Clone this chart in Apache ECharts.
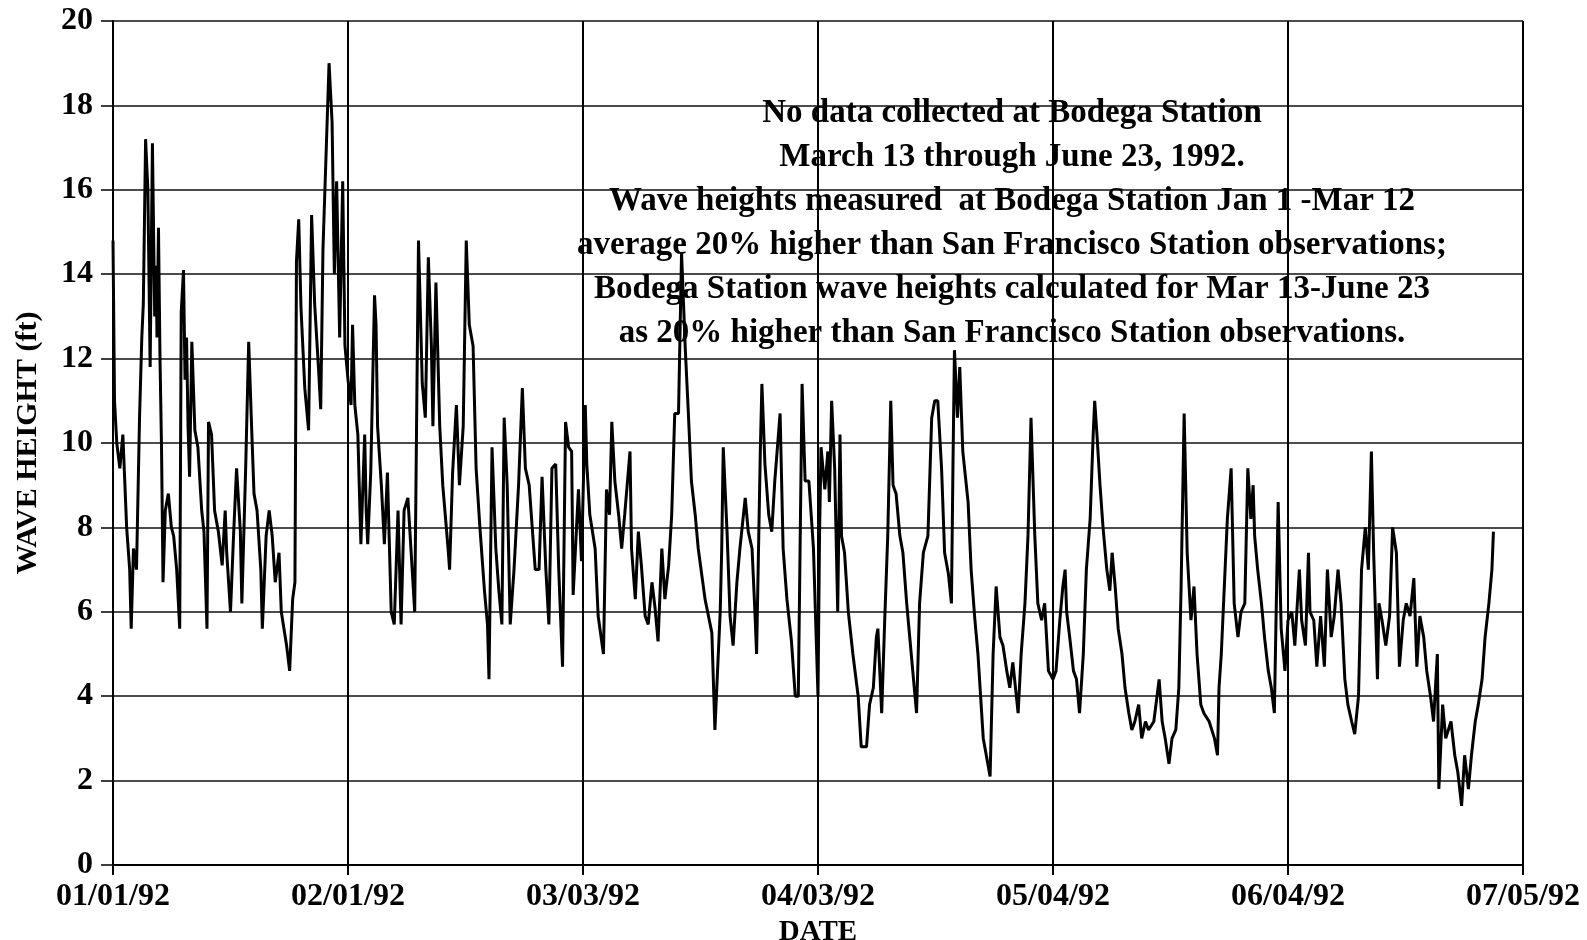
<!DOCTYPE html>
<html>
<head>
<meta charset="utf-8">
<script src="https://cdn.jsdelivr.net/npm/echarts@6/dist/echarts.min.js"></script>
<style>
html,body{margin:0;padding:0;background:#fff;}
#chart{width:1587px;height:940px;}
</style>
</head>
<body>
<div id="chart"></div>
<script>
// Days since 01/01/92 and wave heights (ft)
const days = [
0,0.2,0.5,0.9,1.3,1.8,2.2,2.4,2.7,3.1,3.5,3.8,4.0,4.3,4.6,4.9,5.2,5.5,5.7,5.8,6.0,6.2,6.4,6.6,6.9,7.3,7.7,8.0,8.4,8.8,
9.0,9.3,9.5,9.7,9.9,10.1,10.4,10.8,11.2,11.7,12.0,12.4,12.6,13.0,13.4,13.9,14.4,14.8,15.0,15.5,15.9,16.3,16.8,17.0,17.5,17.9,18.3,18.6,19.0,19.5,
19.7,20.2,20.6,21.0,21.4,21.9,22.2,22.9,23.3,23.7,24.0,24.2,24.5,24.8,25.3,25.8,26.2,26.6,27.1,27.4,27.7,28.5,28.9,29.2,29.5,29.9,30.3,30.6,31.0,31.4,
31.6,31.9,32.3,32.7,33.2,33.4,33.6,34.0,34.5,34.7,34.9,35.4,35.8,36.2,36.7,37.1,37.6,38.0,38.4,38.9,39.3,39.8,40.1,40.3,40.8,41.2,41.6,42.0,42.2,42.6,
43.1,43.5,44.2,44.4,44.8,45.3,45.7,46.2,46.6,47.0,47.5,47.9,48.4,49.0,49.4,49.6,50.0,50.5,50.9,51.3,51.6,52.0,52.4,52.9,53.5,54.0,54.4,54.9,55.3,55.7,
56.2,56.6,57.1,57.5,57.9,58.4,58.8,59.3,59.7,60.1,60.5,60.7,61.4,61.8,62.3,62.5,62.9,63.6,64.0,64.7,65.1,65.5,65.8,66.2,66.7,67.1,67.5,68.2,68.4,68.9,
69.3,69.7,70.2,70.6,71.1,71.5,71.9,72.4,72.8,73.3,73.7,74.1,74.6,75.0,75.5,75.9,76.3,76.8,77.2,78.1,79.0,79.4,80.1,80.3,80.5,81.0,81.4,81.8,82.3,82.7,
83.4,83.8,84.3,84.7,84.9,85.4,85.6,86.0,86.5,86.9,87.3,88.0,88.4,88.9,89.5,90.0,90.4,90.9,91.3,91.8,92.4,93.0,93.2,93.4,93.9,94.3,94.5,94.8,95.2,95.6,
95.9,96.1,96.5,97.0,97.6,98.3,98.7,99.4,99.8,100.3,100.7,100.9,101.4,101.8,102.2,102.6,102.9,103.3,103.8,104.2,104.7,105.1,105.5,106.0,106.4,106.9,107.5,108.0,108.4,108.8,
109.3,109.7,110.2,110.6,110.8,111.0,111.4,111.7,112.1,112.8,113.2,113.7,114.1,114.8,115.2,115.7,116.1,116.5,117.0,117.4,117.9,118.3,118.7,119.4,119.8,120.3,120.7,121.1,121.6,122.0,
122.5,122.9,123.4,124.0,124.4,124.9,125.3,125.6,125.8,126.2,126.7,127.1,127.5,128.0,128.4,128.9,129.3,129.5,129.8,130.2,130.6,131.1,131.5,131.8,132.2,132.6,133.1,133.5,134.0,134.4,
134.8,135.3,135.7,136.2,136.6,137.3,138.0,138.4,138.8,139.3,139.7,140.2,140.6,140.9,141.3,141.7,142.2,142.6,143.0,143.5,143.9,144.6,145.3,145.7,145.9,146.2,146.6,147.0,147.5,147.9,
148.4,148.8,149.3,149.7,150.1,150.4,150.6,151.0,151.5,151.9,152.4,152.8,153.2,153.7,154.1,154.6,155.0,155.5,155.9,156.5,156.8,157.3,157.7,157.9,158.4,158.8,159.3,159.8,160.2,160.7,
161.1,161.6,162.0,162.5,162.9,163.4,163.8,164.3,164.7,165.2,165.6,166.0,166.3,166.8,167.0,167.4,167.9,168.4,168.8,169.3,169.7,170.2,170.6,171.1,171.6,172.0,172.4,172.9,173.3,173.8,
174.2,174.7,174.9,175.4,175.8,176.5,177.0,177.4,177.9,178.3,178.8,179.2,179.7,180.1,180.6,181.0,181.5,181.9,182.1
];
const heights = [
14.8,11,10,9.4,10.2,8,7,5.6,7.5,7,10.6,12.5,13.3,17.2,16,11.8,17.1,13,14.2,12.5,15.1,12,9.9,6.7,8.4,8.8,8.0,7.8,7,5.6,
13.1,14.1,11.5,12.5,10.4,9.2,12.4,10.3,9.9,8.4,7.9,5.6,10.5,10.2,8.4,7.9,7.1,8.4,7.4,6,7.8,9.4,7.9,6.2,9.4,12.4,10.3,8.8,8.4,7,
5.6,7.8,8.4,7.8,6.7,7.4,6,5.2,4.6,6.3,6.7,14.3,15.3,13.2,11.3,10.3,15.4,13.3,11.8,10.8,14.6,19,17.6,14,16.2,12.5,16.2,12.3,11.5,10.9,
12.8,10.9,10.2,7.6,10.2,8.4,7.6,9.3,13.5,12.8,10.4,9.0,7.6,9.3,6,5.7,8.4,5.7,8.4,8.7,7.5,6,11.4,14.8,11.4,10.6,14.4,12.3,10.4,13.8,
10.4,9.0,7.5,7,9.3,10.9,9,10.4,14.8,12.8,12.3,9.4,8,6.5,5.7,4.4,9.9,7.5,6.5,5.7,10.6,9,5.7,7,9,11.3,9.4,9,8,7,
7,9.2,7,5.7,9.4,9.5,7,4.7,10.5,9.9,9.8,6.4,8.9,7.2,10.9,9.5,8.3,7.5,5.9,5,8.9,8.3,10.5,9.1,8.3,7.5,8.3,9.8,7.5,6.3,
7.9,7.1,5.9,5.7,6.7,6.1,5.3,7.5,6.3,7.1,8.3,10.7,10.7,14.5,12.2,10.7,9.1,8.3,7.5,6.3,5.5,3.2,6,7.5,9.9,7.9,5.9,5.2,6.7,7.5,
8.7,7.9,7.5,5.9,5,9.9,11.4,9.5,8.3,7.9,9.1,10.7,7.5,6.3,5.3,4.0,4.0,11.4,9.1,9.1,7.5,4.0,7.8,9.9,8.9,9.8,8.6,11,9.4,6,
10.2,7.8,7.4,6,5,4,2.8,2.8,3.8,4.2,5.4,5.6,3.6,5.8,7.8,11,9,8.8,7.8,7.4,6.2,5.4,4.6,3.6,6.2,7.4,7.8,10.6,11,11,
9.4,7.4,6.9,6.2,9.4,12.2,10.6,11.8,9.8,8.6,7,5.8,5,3,2.6,2.1,5,6.6,5.4,5.2,4.6,4.2,4.8,3.6,5,6.2,7.8,10.6,7.8,6.2,
5.8,6.2,4.6,4.4,4.6,5.8,6.6,7,6,5.4,4.6,4.4,3.6,5,7,8.2,10.2,11,10.2,9,8,7,6.5,7.4,6.6,5.6,5,4.2,3.6,3.2,
3.4,3.8,3,3.4,3.2,3.4,4.4,3.4,3,2.4,3,3.2,4.2,6.6,10.7,7.4,5.8,6.6,5,3.8,3.6,3.4,3,2.6,4.2,5,6.6,8.2,9.4,6.2,
5.4,6,6.2,9.4,8.2,9,7.8,7,6.2,5.4,4.6,4.2,3.6,8.6,5.6,4.6,5.8,6,5.2,7,5.8,5.2,7.4,6,5.8,4.7,5.9,4.7,7,5.4,
5.9,7,6.2,4.4,3.8,3.4,3.1,4,7,8,7,9.8,7.4,4.4,6.2,5.8,5.2,5.9,8,7.4,4.7,5.8,6.2,5.9,6.8,4.7,5.9,5.4,4.6,4,
3.4,5,1.8,3.8,3,3.4,2.6,2.2,1.4,2.6,1.8,2.6,3.4,3.8,4.4,5.4,6.2,7,7.9
];
const yTicks = [0, 20, 2];          // min, max, step (ft)
const xTicks = [0, 186, 31];        // min, max, step (days)
const startDate = [1992, 0, 1];
const noteLines = [
  'No data collected at Bodega Station',
  'March 13 through June 23, 1992.',
  'Wave heights measured  at Bodega Station Jan 1 -Mar 12',
  'average 20% higher than San Francisco Station observations;',
  'Bodega Station wave heights calculated for Mar 13-June 23',
  'as 20% higher than San Francisco Station observations.'
];

const seriesData = days.map((d, i) => [d, heights[i]]);
const base = Date.UTC(startDate[0], startDate[1], startDate[2]);
function fmtDate(v) {
  const dt = new Date(base + Math.round(v) * 86400000);
  const p = n => String(n).padStart(2, '0');
  return p(dt.getUTCMonth() + 1) + '/' + p(dt.getUTCDate()) + '/' + p(dt.getUTCFullYear() % 100);
}

const FONT = '"Liberation Serif", "Times New Roman", serif';
const chart = echarts.init(document.getElementById('chart'), null, {renderer: 'canvas'});
chart.setOption({
  animation: false,
  backgroundColor: '#fff',
  grid: {left: 113, right: 64, top: 21, bottom: 75, containLabel: false, outerBoundsMode: 'none'},
  xAxis: {
    type: 'value', min: xTicks[0], max: xTicks[1], interval: xTicks[2],
    name: 'DATE', nameLocation: 'middle', nameGap: 44,
    nameTextStyle: {fontFamily: FONT, fontWeight: 'bold', fontSize: 29, color: '#000'},
    axisLine: {show: true, onZero: false, lineStyle: {color: '#000', width: 2}},
    axisTick: {show: true, inside: false, length: 10, lineStyle: {color: '#000', width: 2}},
    axisLabel: {fontFamily: FONT, fontWeight: 'bold', fontSize: 32, color: '#000', margin: 16,
      formatter: fmtDate, showMaxLabel: true, showMinLabel: true},
    splitLine: {show: true, lineStyle: {color: '#000', width: 2}}
  },
  yAxis: {
    type: 'value', min: yTicks[0], max: yTicks[1], interval: yTicks[2],
    name: 'WAVE HEIGHT (ft)', nameLocation: 'middle', nameGap: 70, nameRotate: 90,
    nameTextStyle: {fontFamily: FONT, fontWeight: 'bold', fontSize: 30, color: '#000'},
    axisLine: {show: true, lineStyle: {color: '#000', width: 2}},
    axisTick: {show: true, inside: false, length: 12, lineStyle: {color: '#000', width: 1.5}},
    axisLabel: {fontFamily: FONT, fontWeight: 'bold', fontSize: 32, color: '#000', margin: 20},
    splitLine: {show: true, lineStyle: {color: '#111', width: 1.5}}
  },
  graphic: [{
    type: 'text', x: 1012, y: 91, z: 10,
    style: {
      text: noteLines.join('\n'), textAlign: 'center', textVerticalAlign: 'top',
      font: 'bold 33px ' + FONT, lineHeight: 44, fill: '#000'
    }
  }],
  series: [{
    type: 'line', data: seriesData, showSymbol: false, smooth: false,
    lineStyle: {color: '#000', width: 3}, z: 5
  }]
});
</script>
</body>
</html>
